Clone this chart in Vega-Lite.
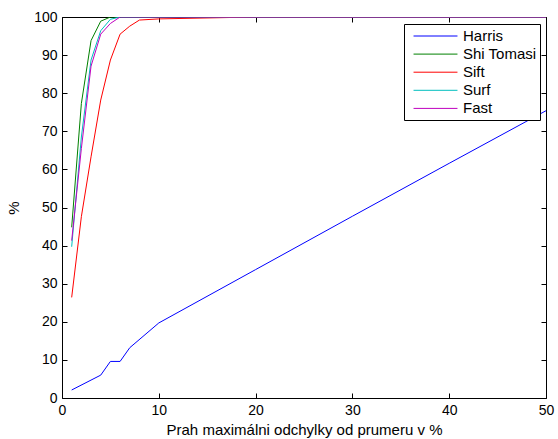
{
  "$schema": "https://vega.github.io/schema/vega-lite/v6.json",
  "autosize": "none",
  "width": 484,
  "height": 381,
  "padding": {"left": 62, "top": 17, "right": 12, "bottom": 41},
  "background": "white",
  "config": {
    "view": {"stroke": "black", "strokeWidth": 1},
    "font": "Liberation Sans",
    "axis": {
      "grid": false,
      "domain": false,
      "tickColor": "black",
      "tickSize": 5,
      "tickWidth": 1,
      "labelColor": "black",
      "labelFont": "Liberation Sans",
      "labelFontSize": 14,
      "titleFont": "Liberation Sans",
      "titleFontSize": 15,
      "titleFontWeight": "normal",
      "titleColor": "black"
    }
  },
  "data": {
    "values": [
      {"series": "Harris", "x": 1, "y": 2.1},
      {"series": "Harris", "x": 4, "y": 6.0},
      {"series": "Harris", "x": 5, "y": 9.6},
      {"series": "Harris", "x": 6, "y": 9.6},
      {"series": "Harris", "x": 7, "y": 13.2},
      {"series": "Harris", "x": 10, "y": 19.7},
      {"series": "Harris", "x": 20, "y": 33.7},
      {"series": "Harris", "x": 30, "y": 47.7},
      {"series": "Harris", "x": 40, "y": 61.6},
      {"series": "Harris", "x": 50, "y": 75.4},
      {"series": "Shi Tomasi", "x": 1, "y": 44.8},
      {"series": "Shi Tomasi", "x": 2, "y": 77.3},
      {"series": "Shi Tomasi", "x": 3, "y": 93.8},
      {"series": "Shi Tomasi", "x": 4, "y": 98.9},
      {"series": "Shi Tomasi", "x": 5, "y": 100},
      {"series": "Shi Tomasi", "x": 10, "y": 100},
      {"series": "Shi Tomasi", "x": 50, "y": 100},
      {"series": "Sift", "x": 1, "y": 26.4},
      {"series": "Sift", "x": 2, "y": 47.6},
      {"series": "Sift", "x": 3, "y": 63.3},
      {"series": "Sift", "x": 4, "y": 78.2},
      {"series": "Sift", "x": 5, "y": 88.7},
      {"series": "Sift", "x": 6, "y": 95.5},
      {"series": "Sift", "x": 7, "y": 97.6},
      {"series": "Sift", "x": 8, "y": 99.2},
      {"series": "Sift", "x": 10, "y": 99.5},
      {"series": "Sift", "x": 20, "y": 100},
      {"series": "Sift", "x": 50, "y": 100},
      {"series": "Surf", "x": 1, "y": 39.7},
      {"series": "Surf", "x": 2, "y": 68.5},
      {"series": "Surf", "x": 3, "y": 88.7},
      {"series": "Surf", "x": 4, "y": 96.4},
      {"series": "Surf", "x": 5, "y": 99.4},
      {"series": "Surf", "x": 6, "y": 100},
      {"series": "Surf", "x": 50, "y": 100},
      {"series": "Fast", "x": 1, "y": 41.3},
      {"series": "Fast", "x": 2, "y": 65.5},
      {"series": "Fast", "x": 3, "y": 87.1},
      {"series": "Fast", "x": 4, "y": 95.5},
      {"series": "Fast", "x": 5, "y": 98.3},
      {"series": "Fast", "x": 6, "y": 100},
      {"series": "Fast", "x": 50, "y": 100}
    ]
  },
  "layer": [
    {
      "mark": {"type": "line", "opacity": 0},
      "encoding": {
        "x": {"field": "x", "type": "quantitative", "axis": {"orient": "top", "offset": -381, "values": [0, 10, 20, 30, 40, 50], "labels": false, "title": null}},
        "y": {"field": "y", "type": "quantitative", "axis": {"orient": "right", "offset": -484, "values": [0, 10, 20, 30, 40, 50, 60, 70, 80, 90, 100], "labels": false, "title": null}}
      }
    },
    {
      "mark": {"type": "line", "opacity": 0},
      "encoding": {
        "x": {"field": "x", "type": "quantitative", "axis": {"orient": "bottom", "offset": -381, "values": [0, 10, 20, 30, 40, 50], "labels": false, "title": null}},
        "y": {"field": "y", "type": "quantitative", "axis": {"orient": "left", "offset": -484, "values": [0, 10, 20, 30, 40, 50, 60, 70, 80, 90, 100], "labels": false, "title": null}}
      }
    },
    {
      "mark": {"type": "line", "strokeWidth": 1, "clip": true},
      "encoding": {
        "x": {
          "field": "x", "type": "quantitative",
          "scale": {"domain": [0, 50], "nice": false, "zero": false},
          "axis": {"orient": "bottom", "values": [0, 10, 20, 30, 40, 50], "ticks": false, "title": "Prah maximálni odchylky od prumeru v %", "labelPadding": 5, "titlePadding": 5, "labelFlush": false}
        },
        "y": {
          "field": "y", "type": "quantitative",
          "scale": {"domain": [0, 100], "nice": false},
          "axis": {"orient": "left", "values": [0, 10, 20, 30, 40, 50, 60, 70, 80, 90, 100], "ticks": false, "title": "%", "labelPadding": 5, "titlePadding": 12, "labelFlush": false}
        },
        "color": {
          "field": "series", "type": "nominal",
          "scale": {
            "domain": ["Harris", "Shi Tomasi", "Sift", "Surf", "Fast"],
            "range": ["#0000ff", "#008000", "#ff0000", "#00bfbf", "#bf00bf"]
          },
          "legend": {
            "title": null,
            "orient": "none",
            "legendX": 342,
            "legendY": 7,
            "strokeColor": "black",
            "fillColor": "white",
            "padding": 3,
            "symbolType": "M-0.29,0L4.88,0",
            "symbolSize": 289,
            "symbolStrokeWidth": 1,
            "labelOffset": 38,
            "labelFont": "Liberation Sans",
            "labelFontSize": 15,
            "labelColor": "black",
            "rowPadding": 1.1,
            "cornerRadius": 0
          }
        }
      }
    }
  ],
  "resolve": {"axis": {"x": "independent", "y": "independent"}}
}
